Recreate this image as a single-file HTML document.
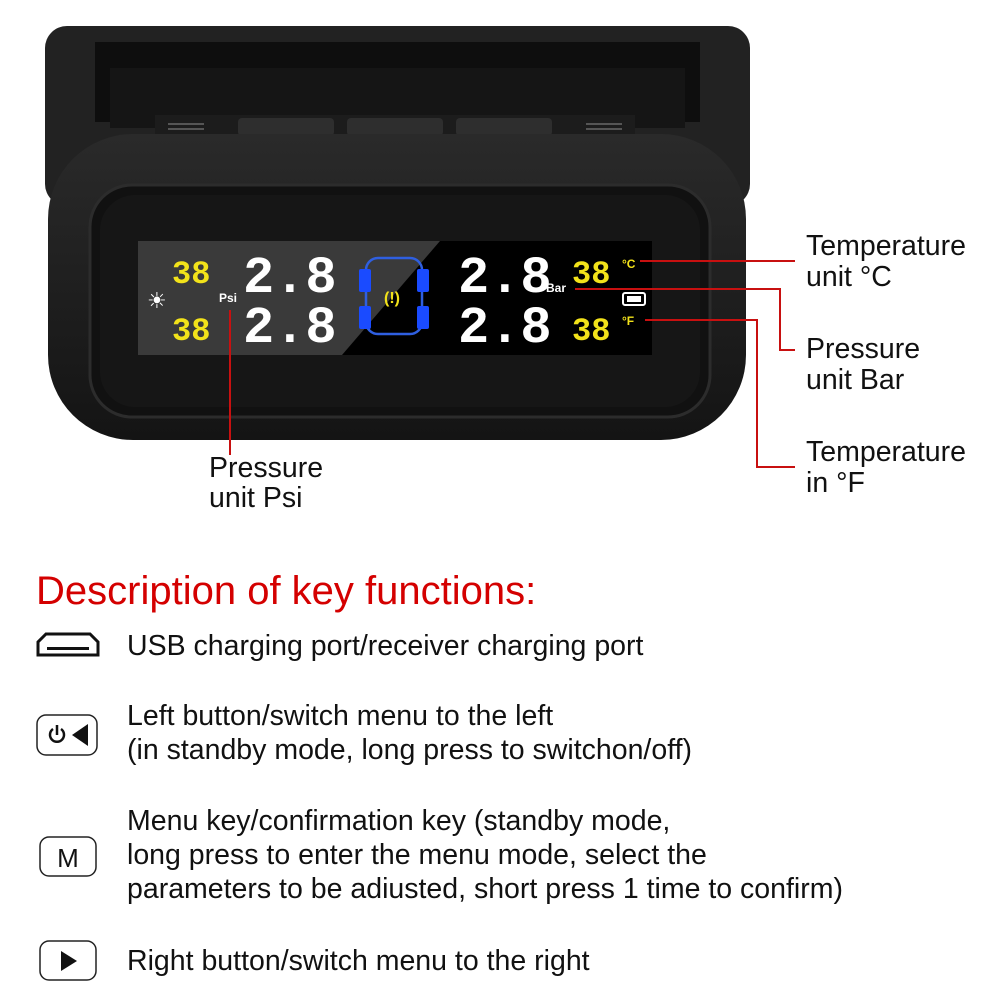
<!DOCTYPE html>
<html><head><meta charset="utf-8"><style>
html,body{margin:0;padding:0;background:#fff}
body{width:1000px;height:1000px;position:relative;overflow:hidden;font-family:"Liberation Sans",Arial,sans-serif}
.t{position:absolute;font-size:28.5px;color:#111;line-height:34px;white-space:nowrap}
</style></head><body>
<svg width="1000" height="1000" style="position:absolute;left:0;top:0">
<defs>
<linearGradient id="body" x1="0" y1="0" x2="0" y2="1"><stop offset="0" stop-color="#2a2a2a"/><stop offset="1" stop-color="#141414"/></linearGradient>
</defs>
<rect x="45" y="26" width="705" height="180" rx="22" fill="#222"/>
<rect x="95" y="42" width="605" height="80" fill="#0e0e0e"/>
<rect x="110" y="68" width="575" height="60" fill="#151515"/>
<rect x="155" y="115" width="480" height="25" fill="#1c1c1c"/>
<rect x="238" y="118" width="96" height="18" rx="4" fill="#2e2e2e"/>
<rect x="347" y="118" width="96" height="18" rx="4" fill="#2e2e2e"/>
<rect x="456" y="118" width="96" height="18" rx="4" fill="#2e2e2e"/>
<rect x="168" y="123" width="36" height="2" fill="#555"/><rect x="168" y="128" width="36" height="2" fill="#555"/>
<rect x="586" y="123" width="36" height="2" fill="#555"/><rect x="586" y="128" width="36" height="2" fill="#555"/>
<rect x="48" y="134" width="698" height="306" rx="85" fill="url(#body)"/>
<rect x="90" y="185" width="620" height="232" rx="42" fill="#111" stroke="#2c2c2c" stroke-width="3"/>
<rect x="100" y="195" width="600" height="212" rx="35" fill="#161616"/>
<rect x="138" y="241" width="514" height="114" fill="#3a3a3a"/>
<polygon points="440,241 652,241 652,355 342,355" fill="#000"/>
<g font-family="Liberation Mono,monospace" font-weight="bold">
<text x="172" y="283" font-size="32" fill="#f2e21a">38</text>
<text x="172" y="340" font-size="32" fill="#f2e21a">38</text>
<text x="243" y="292" font-size="52" fill="#fff">2.8</text>
<text x="243" y="342" font-size="52" fill="#fff">2.8</text>
<text x="458" y="292" font-size="52" fill="#fff">2.8</text>
<text x="458" y="342" font-size="52" fill="#fff">2.8</text>
<text x="572" y="283" font-size="32" fill="#f2e21a">38</text>
<text x="572" y="340" font-size="32" fill="#f2e21a">38</text>
</g>
<text x="622" y="268" font-size="12" fill="#f2e21a" font-weight="bold">°C</text>
<text x="622" y="325" font-size="12" fill="#f2e21a" font-weight="bold">°F</text>
<text x="546" y="292" font-size="12" fill="#fff" font-weight="bold">Bar</text>
<text x="219" y="302" font-size="12" fill="#fff" font-weight="bold">Psi</text>
<text x="147" y="308" font-size="22" fill="#fff">☀</text>
<rect x="623" y="293" width="22" height="12" rx="2" fill="none" stroke="#fff" stroke-width="2"/>
<rect x="627" y="296" width="14" height="6" fill="#fff"/>
<rect x="366" y="258" width="56" height="76" rx="12" fill="none" stroke="#2f5fe0" stroke-width="2.5"/>
<rect x="359" y="269" width="12" height="23" rx="2" fill="#1a4bff"/>
<rect x="417" y="269" width="12" height="23" rx="2" fill="#1a4bff"/>
<rect x="359" y="306" width="12" height="23" rx="2" fill="#1a4bff"/>
<rect x="417" y="306" width="12" height="23" rx="2" fill="#1a4bff"/>
<text x="384" y="303" font-size="16" fill="#f2e21a" font-weight="bold">(!)</text>
<g stroke="#c81010" stroke-width="2" fill="none">
<polyline points="640,261 795,261"/>
<polyline points="575,289 780,289 780,350 795,350"/>
<polyline points="645,320 757,320 757,467 795,467"/>
<polyline points="230,310 230,455"/>
</g>
<path d="M38,655 L38,642 L46,634 L90,634 L98,642 L98,655 Z" fill="none" stroke="#111" stroke-width="3"/>
<rect x="47" y="647" width="42" height="3" fill="#111"/>
<rect x="37" y="715" width="60" height="40" rx="9" fill="none" stroke="#222" stroke-width="1.5"/>
<path d="M53,729 A7,7 0 1 0 61,729" fill="none" stroke="#111" stroke-width="2.5"/>
<line x1="57" y1="725" x2="57" y2="735" stroke="#111" stroke-width="2.5"/>
<polygon points="88,724 88,746 72,735" fill="#111"/>
<rect x="40" y="837" width="56" height="39" rx="9" fill="none" stroke="#222" stroke-width="1.5"/>
<text x="68" y="867" font-size="26" fill="#111" text-anchor="middle">M</text>
<rect x="40" y="941" width="56" height="39" rx="9" fill="none" stroke="#222" stroke-width="1.5"/>
<polygon points="61,951 61,971 77,961" fill="#111"/>
</svg>
<div class="t" style="left:806px;top:231px;line-height:31px">Temperature<br>unit °C</div>
<div class="t" style="left:806px;top:334px;line-height:31px">Pressure<br>unit Bar</div>
<div class="t" style="left:806px;top:437px;line-height:31px">Temperature<br>in °F</div>
<div class="t" style="left:209px;top:453px;line-height:30px">Pressure<br>unit Psi</div>
<div class="t" style="left:36px;top:574px;font-size:40px;color:#d40000">Description of key functions:</div>
<div class="t" style="left:127px;top:629px">USB charging port/receiver charging port</div>
<div class="t" style="left:127px;top:699px">Left button/switch menu to the left<br>(in standby mode, long press to switchon/off)</div>
<div class="t" style="left:127px;top:804px">Menu key/confirmation key (standby mode,<br>long press to enter the menu mode, select the<br>parameters to be adiusted, short press 1 time to confirm)</div>
<div class="t" style="left:127px;top:944px">Right button/switch menu to the right</div>
</body></html>
